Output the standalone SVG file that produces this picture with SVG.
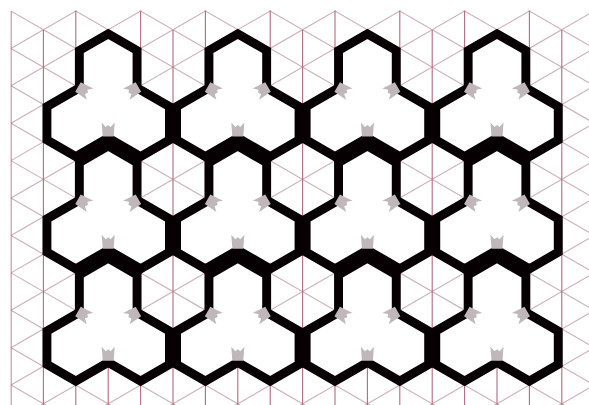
<svg xmlns="http://www.w3.org/2000/svg" xmlns:xlink="http://www.w3.org/1999/xlink" width="589" height="405" viewBox="0 0 589 405">
<style>
.vg{stroke:#b36a7c;stroke-width:1.1;fill:none}
.dg{stroke:#cdaeb6;stroke-width:1.1;fill:none}
.tf{fill:#ffffff}
.te{fill:none;stroke:#060002;stroke-width:16;stroke-linejoin:miter}
.to{fill:none;stroke:#060002;stroke-width:1.8;stroke-linejoin:miter}
.mk{fill:#bfb7ba}
</style>
<defs>
<path id="tp" d="M0,0 L32.4,18.705 L32.4,56.115 L64.8,74.82 L64.8,112.23 L32.4,130.935 L0,112.23 L-32.4,130.935 L-64.8,112.23 L-64.8,74.82 L-32.4,56.115 L-32.4,18.705 Z"/>
<clipPath id="tc"><use href="#tp"/></clipPath>
<path id="mk" class="mk" d="M-6.5,-7.5 L-2.5,-3 L0,-5 L2.5,-3 L6.5,-7.5 L5.5,6.5 L-5.5,6.5 Z"/>
<g id="tile">
<use href="#tp" class="tf"/>
<use href="#tp" class="te" clip-path="url(#tc)"/>
<use href="#tp" class="to"/>
<use href="#mk" transform="translate(0,100.2)"/>
<use href="#mk" transform="translate(-24.6,60.6) rotate(120)"/>
<use href="#mk" transform="translate(24.6,60.6) rotate(-120)"/>
</g>
<clipPath id="gc"><path d="M10.5,10 L43.4,28.7 L75.8,10 L108.2,28.7 L140.6,10 L173,28.7 L205.4,10 L237.8,28.7 L270.2,10 L302.6,28.7 L335,10 L367.4,28.7 L399.8,10 L432.2,28.7 L464.6,10 L497,28.7 L529.4,10 L561.8,28.7 L594.2,10 L640,10 L640,420 L10.5,420 Z"/></clipPath>
</defs>
<rect width="589" height="405" fill="#ffffff"/>
<g id="grid" clip-path="url(#gc)">
<g class="dg">
<line x1="11" y1="-325.69" x2="600" y2="14.37"/>
<line x1="11" y1="-288.28" x2="600" y2="51.78"/>
<line x1="11" y1="-250.87" x2="600" y2="89.19"/>
<line x1="11" y1="-213.46" x2="600" y2="126.6"/>
<line x1="11" y1="-176.05" x2="600" y2="164.01"/>
<line x1="11" y1="-138.64" x2="600" y2="201.42"/>
<line x1="11" y1="-101.23" x2="600" y2="238.83"/>
<line x1="11" y1="-63.82" x2="600" y2="276.24"/>
<line x1="11" y1="-26.41" x2="600" y2="313.65"/>
<line x1="11" y1="11" x2="600" y2="351.06"/>
<line x1="11" y1="48.41" x2="600" y2="388.47"/>
<line x1="11" y1="85.82" x2="600" y2="425.88"/>
<line x1="11" y1="123.23" x2="600" y2="463.29"/>
<line x1="11" y1="160.64" x2="600" y2="500.7"/>
<line x1="11" y1="198.05" x2="600" y2="538.11"/>
<line x1="11" y1="235.46" x2="600" y2="575.52"/>
<line x1="11" y1="272.87" x2="600" y2="612.93"/>
<line x1="11" y1="310.28" x2="600" y2="650.34"/>
<line x1="11" y1="347.69" x2="600" y2="687.75"/>
<line x1="11" y1="385.1" x2="600" y2="725.16"/>
<line x1="11" y1="48.41" x2="600" y2="-291.65"/>
<line x1="11" y1="85.82" x2="600" y2="-254.24"/>
<line x1="11" y1="123.23" x2="600" y2="-216.83"/>
<line x1="11" y1="160.64" x2="600" y2="-179.42"/>
<line x1="11" y1="198.05" x2="600" y2="-142.01"/>
<line x1="11" y1="235.46" x2="600" y2="-104.6"/>
<line x1="11" y1="272.87" x2="600" y2="-67.19"/>
<line x1="11" y1="310.28" x2="600" y2="-29.78"/>
<line x1="11" y1="347.69" x2="600" y2="7.63"/>
<line x1="11" y1="385.1" x2="600" y2="45.04"/>
<line x1="11" y1="422.51" x2="600" y2="82.45"/>
<line x1="11" y1="459.92" x2="600" y2="119.86"/>
<line x1="11" y1="497.33" x2="600" y2="157.27"/>
<line x1="11" y1="534.74" x2="600" y2="194.68"/>
<line x1="11" y1="572.15" x2="600" y2="232.09"/>
<line x1="11" y1="609.56" x2="600" y2="269.5"/>
<line x1="11" y1="646.97" x2="600" y2="306.91"/>
<line x1="11" y1="684.38" x2="600" y2="344.32"/>
<line x1="11" y1="721.79" x2="600" y2="381.73"/>
</g>
<g class="vg">
<line x1="11" y1="11" x2="11" y2="405"/>
<line x1="43.4" y1="29.7" x2="43.4" y2="405"/>
<line x1="75.8" y1="11" x2="75.8" y2="405"/>
<line x1="108.2" y1="29.7" x2="108.2" y2="405"/>
<line x1="140.6" y1="11" x2="140.6" y2="405"/>
<line x1="173" y1="29.7" x2="173" y2="405"/>
<line x1="205.4" y1="11" x2="205.4" y2="405"/>
<line x1="237.8" y1="29.7" x2="237.8" y2="405"/>
<line x1="270.2" y1="11" x2="270.2" y2="405"/>
<line x1="302.6" y1="29.7" x2="302.6" y2="405"/>
<line x1="335" y1="11" x2="335" y2="405"/>
<line x1="367.4" y1="29.7" x2="367.4" y2="405"/>
<line x1="399.8" y1="11" x2="399.8" y2="405"/>
<line x1="432.2" y1="29.7" x2="432.2" y2="405"/>
<line x1="464.6" y1="11" x2="464.6" y2="405"/>
<line x1="497" y1="29.7" x2="497" y2="405"/>
<line x1="529.4" y1="11" x2="529.4" y2="405"/>
<line x1="561.8" y1="29.7" x2="561.8" y2="405"/>
</g>
</g>
<g id="tiles">
<g id="tile-r1c1" transform="translate(108.2,29.705)"><use href="#tile"/></g>
<g id="tile-r1c2" transform="translate(237.8,29.705)"><use href="#tile"/></g>
<g id="tile-r1c3" transform="translate(367.4,29.705)"><use href="#tile"/></g>
<g id="tile-r1c4" transform="translate(497,29.705)"><use href="#tile"/></g>
<g id="tile-r2c1" transform="translate(108.2,141.935)"><use href="#tile"/></g>
<g id="tile-r2c2" transform="translate(237.8,141.935)"><use href="#tile"/></g>
<g id="tile-r2c3" transform="translate(367.4,141.935)"><use href="#tile"/></g>
<g id="tile-r2c4" transform="translate(497,141.935)"><use href="#tile"/></g>
<g id="tile-r3c1" transform="translate(108.2,254.165)"><use href="#tile"/></g>
<g id="tile-r3c2" transform="translate(237.8,254.165)"><use href="#tile"/></g>
<g id="tile-r3c3" transform="translate(367.4,254.165)"><use href="#tile"/></g>
<g id="tile-r3c4" transform="translate(497,254.165)"><use href="#tile"/></g>
</g>
</svg>
